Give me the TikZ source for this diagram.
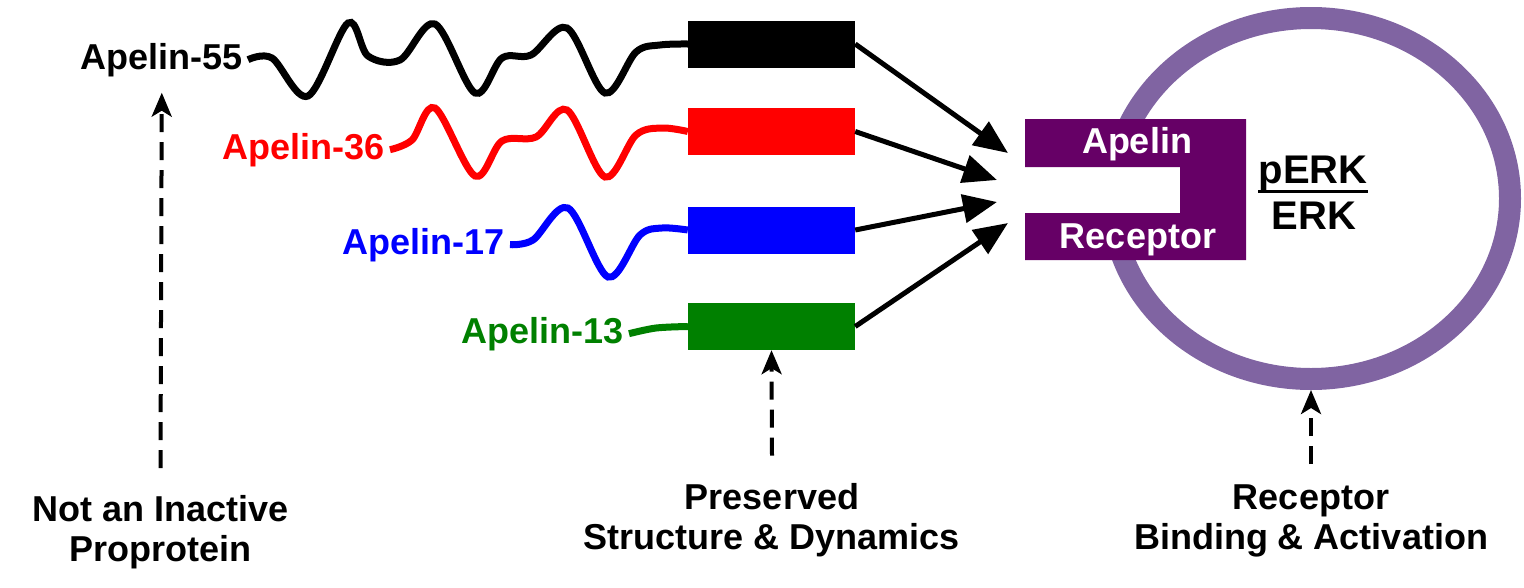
\documentclass[tikz,border=0pt]{standalone}
\usepackage{fontspec}
\setmainfont{Liberation Sans}
\usepackage{tikz}
\usetikzlibrary{arrows.meta,shapes.geometric}
\definecolor{rcptpurple}{HTML}{660066}
\definecolor{cellpurple}{HTML}{8064A2}
\definecolor{apgreen}{HTML}{008000}

\begin{document}
\begin{tikzpicture}[x=1pt,y=-1pt,
    lbl/.style={font=\fontsize{36}{40}\selectfont\bfseries,inner sep=0pt},
    pept/.style={line width=7pt},
    bar/.style={rectangle,minimum width=167pt,minimum height=47pt,inner sep=0pt},
    bind/.style={line width=5pt,-{Triangle[length=34pt,width=28pt]}},
    note/.style={line width=4pt,dash pattern=on 18pt off 10pt,-{Stealth[length=24pt,width=20pt,inset=6pt]}}]
  \useasboundingbox (0,0) rectangle (1524,587);
  % cell and receptor
  \node[ellipse,draw=cellpurple,line width=22pt,minimum width=398pt,minimum height=361pt,inner sep=0pt] (cell) at (1311,198.5) {};
  \fill[white] (1025,167) rectangle (1180,213);
  \fill[rcptpurple] (1025,119) -- (1246,119) -- (1246,260) -- (1025,260) -- (1025,213) -- (1180,213) -- (1180,167) -- (1025,167) -- cycle;
  \node[lbl,text=white,anchor=base] (apl) at (1137,153) {Apelin};
  \node[lbl,text=white,anchor=base] (rcp) at (1138,248) {Receptor};
  \node[lbl,font=\fontsize{40}{44}\selectfont\bfseries,anchor=base] (perk) at (1313,183) {pERK};
  \draw[line width=2.5pt] (perk.south west) -- (perk.south east);
  \node[lbl,font=\fontsize{40}{44}\selectfont\bfseries,anchor=base] (erk) at (1314,229) {ERK};
  % peptides
  \foreach \n/\c/\y in {55/black/44,36/red/131.5,17/blue/230,13/apgreen/326.5}
    \node[bar,fill=\c] (b\n) at (771.5,\y) {};
  \foreach \n/\c/\x/\y in {55/black/243/69,36/red/385/159,17/blue/505/254,13/apgreen/624/343}
    \node[lbl,text=\c,anchor=base east] (a\n) at (\x,\y) {Apelin-\n};
  \draw[pept,black] plot[smooth,tension=0.55] coordinates {([xshift=5pt]a55.east) (272,58) (308,96) (348,23) (368,56) (400,60) (435,24) (475,93) (502,58) (531,55) (567,28) (605,93) (636,52) (660,45) (b55.west)};
  \draw[pept,red] plot[smooth,tension=0.55] coordinates {([xshift=5pt]a36.east) (412,140) (435,108) (475,176) (502,141) (536,137) (567,110) (605,177) (636,135) (662,128) (b36.west)};
  \draw[pept,blue] plot[smooth,tension=0.55] coordinates {([xshift=5pt]a17.east) (533,240) (568,208) (608,277) (640,235) (662,228) (b17.west)};
  \draw[pept,apgreen] plot[smooth,tension=0.55] coordinates {([xshift=5pt]a13.east) (656,328) (b13.west)};
  % binding arrows
  \coordinate (t55) at (1008,153);
  \coordinate (t36) at (997,180);
  \coordinate (t17) at (997,202);
  \coordinate (t13) at (1008,223);
  \foreach \n in {55,36,17,13}
    \draw[bind] (b\n.east) -- (t\n);
  % notes
  \node[lbl,align=center] (n1) at (160.5,532) {Not an Inactive\\Proprotein};
  \node[lbl,align=center] (n2) at (772,520.5) {Preserved\\Structure \& Dynamics};
  \node[lbl,align=center] (n3) at (1311,520.5) {Receptor\\Binding \& Activation};
  \draw[note] ([yshift=27pt]n1.north) -- ([yshift=-16pt]a55.south);
  \draw[note] ([yshift=28pt]n2.north) -- (b13.south);
  \draw[note] ([yshift=20pt]n3.north) -- (cell.south);
\end{tikzpicture}
\end{document}
